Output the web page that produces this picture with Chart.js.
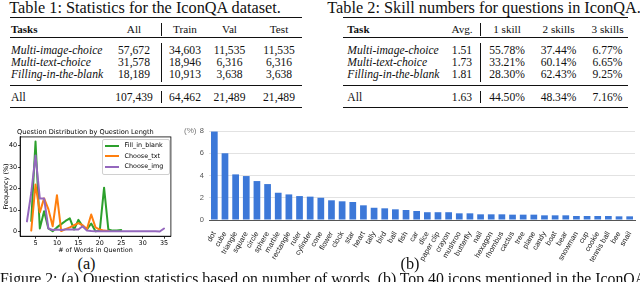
<!DOCTYPE html>
<html><head><meta charset="utf-8">
<script src="https://cdn.jsdelivr.net/npm/chart.js@4.4.1/dist/chart.umd.min.js"></script>
<style>
html,body{margin:0;padding:0;background:#fff;width:640px;height:282px;overflow:hidden;position:relative;}
.t{position:absolute;white-space:nowrap;line-height:1;color:#111;font-family:"Liberation Serif","Times New Roman",serif;}
.rule{position:absolute;background:#111;}
canvas{position:absolute;}
.lg{position:absolute;white-space:nowrap;font-family:"DejaVu Sans",sans-serif;font-size:6.4px;line-height:1;color:#000;}
</style></head><body>
<canvas id="lineChart" width="176" height="128" style="left:0;top:126px;width:176px;height:128px"></canvas>
<canvas id="barChart" width="460" height="142" style="left:180px;top:120px;width:460px;height:142px"></canvas>
<script>
// ---------- data ----------
const t1Title = 'Table 1: Statistics for the IconQA dataset.';
const t1Header = ['Tasks', 'All', 'Train', 'Val', 'Test'];
const t1Tasks = ['Multi-image-choice', 'Multi-text-choice', 'Filling-in-the-blank'];
const t1All = ['57,672', '31,578', '18,189'];
const t1Train = ['34,603', '18,946', '10,913'];
const t1Val = ['11,535', '6,316', '3,638'];
const t1Test = ['11,535', '6,316', '3,638'];
const t1Total = ['All', '107,439', '64,462', '21,489', '21,489'];

const t2Title = 'Table 2: Skill numbers for questions in IconQA.';
const t2Header = ['Task', 'Avg.', '1 skill', '2 skills', '3 skills'];
const t2Tasks = ['Multi-image-choice', 'Multi-text-choice', 'Filling-in-the-blank'];
const t2Avg = ['1.51', '1.73', '1.81'];
const t2One = ['55.78%', '33.21%', '28.30%'];
const t2Two = ['37.44%', '60.14%', '62.43%'];
const t2Three = ['6.77%', '6.65%', '9.25%'];
const t2Total = ['All', '1.63', '44.50%', '48.34%', '7.16%'];

const lineTitle = 'Question Distribution by Question Length';
const seriesNames = ['Fill_in_blank', 'Choose_txt', 'Choose_img'];
const wordCounts = [3,4,5,6,7,8,9,10,11,12,13,14,15,16,17,18,19,20,21,22,23,24,25,26,27,28,29,30,31,32,33,34,35];
const fillBlank = [null,5,42,1.5,9.5,1.5,0.2,2,3.5,5,6.2,1,5.5,2.5,1,3.8,0.2,0.5,20.5,1,0.5,0.5,0.8,null,null,null,null,null,null,null,null,null,null];
const chooseTxt = [null,0.5,22,9,15.5,10.5,2.5,17,0.3,1.2,2,3,4,3,1.2,8,2,1,0.5,0.3,null,null,null,null,null,null,null,null,null,null,null,null,null];
const chooseImg = [4.8,18,35.5,15.5,15.5,1.5,0.8,1,0.8,1,1,1,1,2.5,0.5,0.3,0.2,0.2,0.2,0.2,0.2,0.2,0.2,0.2,0.2,0.2,0.2,0.2,0.2,0.2,0.2,0.1,1.5];
const lineXTicks = [5,10,15,20,25,30,35];
const lineYTicks = [0,10,20,30,40];

const iconNames = ['dot','cube','triangle','square','circle','sphere','marble','rectangle','ruler','cylinder','cone','flower','clock','star','heart','tally','bird','ball','fish','car','dice','paper clip','crayon','mushroo','butterfly','nail','hexagon','rhombus','cactus','tree','plane','candy','boat','bear','snowman','cup','cookie','tennis ball','bee','snail'];
const iconPct = [7.95,6.0,4.1,3.95,3.5,3.23,2.45,2.3,2.15,2.1,2.0,1.77,1.68,1.62,1.32,1.1,1.05,0.96,0.9,0.81,0.7,0.7,0.7,0.6,0.6,0.51,0.51,0.51,0.48,0.48,0.48,0.42,0.42,0.42,0.36,0.36,0.36,0.36,0.33,0.33];

const captionA = '(a)', captionB = '(b)';
const figCaption = 'Figure 2: (a) Question statistics based on number of words. (b) Top 40 icons mentioned in the IconQA dataset.';

// ---------- text helpers ----------
function T(str, x, base, size, o = {}) {
  const d = document.createElement('div');
  d.className = 't'; d.textContent = str;
  d.style.fontSize = size + 'px';
  d.style.left = x + 'px';
  d.style.top = (base - 0.8375 * size) + 'px';
  if (o.b) d.style.fontWeight = 'bold';
  if (o.i) d.style.fontStyle = 'italic';
  if (o.a === 'c') d.style.transform = 'translateX(-50%)';
  else if (o.a === 'r') d.style.transform = 'translateX(-100%)';
  document.body.appendChild(d);
}
function R(x, y, w, h) {
  const d = document.createElement('div'); d.className = 'rule';
  d.style.left = x + 'px'; d.style.top = y + 'px'; d.style.width = w + 'px'; d.style.height = h + 'px';
  document.body.appendChild(d);
}

// ---------- tables ----------
const TS = 16.3, BS = 11.6, CS = 15.8;
const rowBase = [54.8, 67.0, 79.2];
const headBase = 33.2, totBase = 101.3;
// Table 1
T(t1Title, 9.3, 14, TS);
R(10, 16.6, 292, 1.4); R(10, 37.3, 292, 0.8); R(10, 85.3, 292, 0.8); R(10, 106.6, 292, 1.4);
const t1Cols = [134, 185, 229.5, 279];
T(t1Header[0], 11, headBase, BS - 0.6, {b: 1});
t1Header.slice(1).forEach((h, j) => T(h, t1Cols[j], headBase, BS - 0.4, {a: 'c'}));
t1Tasks.forEach((s, i) => {
  T(s, 11, rowBase[i], BS, {i: 1});
  [t1All, t1Train, t1Val, t1Test].forEach((col, j) => T(col[i], t1Cols[j], rowBase[i], BS, {a: 'c'}));
});
T(t1Total[0], 11, totBase, BS);
t1Total.slice(1).forEach((v, j) => T(v, t1Cols[j], totBase, BS, {a: 'c'}));
R(161, 22.7, 0.8, 13.5); R(161, 43.3, 0.8, 38.5); R(161, 90.7, 0.8, 12.8);
// Table 2
T(t2Title, 327.3, 14, TS);
R(343.3, 16.6, 285, 1.4); R(343.3, 37.3, 285, 0.8); R(343.3, 85.3, 285, 0.8); R(343.3, 106.6, 285, 1.4);
const t2Cols = [462, 507, 558.5, 607.5];
T(t2Header[0], 347.3, headBase, BS - 0.6, {b: 1});
t2Header.slice(1).forEach((h, j) => T(h, t2Cols[j], headBase, BS - 0.4, {a: 'c'}));
t2Tasks.forEach((s, i) => {
  T(s, 347.3, rowBase[i], BS, {i: 1});
  [t2Avg, t2One, t2Two, t2Three].forEach((col, j) => T(col[i], t2Cols[j], rowBase[i], BS, {a: 'c'}));
});
T(t2Total[0], 347.3, totBase, BS);
t2Total.slice(1).forEach((v, j) => T(v, t2Cols[j], totBase, BS, {a: 'c'}));
R(479.6, 22.7, 0.8, 13.5); R(479.6, 43.3, 0.8, 38.5); R(479.6, 90.7, 0.8, 12.8);

// captions
T(captionA, 86.5, 269.5, TS, {a: 'c'});
T(captionB, 410, 269.8, TS, {a: 'c'});
T(figCaption, 0, 284.5, CS);

// ---------- line chart legend (HTML) ----------
const lgColors = ['#2ca02c', '#ff7f0e', '#9467bd'];
(function () {
  const box = document.createElement('div');
  box.style.cssText = 'position:absolute;left:101.5px;top:138.5px;width:66px;height:34px;border:0.8px solid #d0d0d0;border-radius:2px;background:rgba(255,255,255,0.85);';
  document.body.appendChild(box);
  const ys = [145.5, 156.3, 166.8];
  seriesNames.forEach((n, i) => {
    const l = document.createElement('div');
    l.style.cssText = `position:absolute;left:105px;top:${ys[i] - 1}px;width:14px;height:2px;background:${lgColors[i]};`;
    document.body.appendChild(l);
    const t = document.createElement('div'); t.className = 'lg'; t.textContent = n;
    t.style.left = '124.5px'; t.style.top = (ys[i] - 3.6) + 'px';
    document.body.appendChild(t);
  });
})();

// ---------- line chart ----------
const frame = {
  id: 'frame',
  afterDatasetsDraw(c) {
    const a = c.chartArea, ctx = c.ctx;
    ctx.save(); ctx.strokeStyle = '#000'; ctx.lineWidth = 0.8;
    ctx.strokeRect(a.left, a.top, a.right - a.left, a.bottom - a.top);
    ctx.restore();
  }
};
const mk = arr => wordCounts.map((x, i) => ({x: x, y: arr[i]}));
const dj = {family: 'DejaVu Sans', size: 6.4};
new Chart(document.getElementById('lineChart'), {
  type: 'line',
  data: {datasets: [
    {label: seriesNames[0], data: mk(fillBlank), borderColor: lgColors[0], order: 3},
    {label: seriesNames[1], data: mk(chooseTxt), borderColor: lgColors[1], order: 2},
    {label: seriesNames[2], data: mk(chooseImg), borderColor: lgColors[2], order: 1}
  ]},
  options: {
    responsive: false, animation: false, devicePixelRatio: 1,
    layout: {padding: {left: 0, right: 5.1, top: 0, bottom: 0}},
    elements: {point: {radius: 0}, line: {borderWidth: 2, tension: 0, borderJoinStyle: 'round', borderCapStyle: 'round'}},
    plugins: {
      legend: {display: false}, tooltip: {enabled: false},
      title: {display: true, text: lineTitle, color: '#000', font: {family: 'DejaVu Sans', size: 6.6, weight: 'normal'}, padding: {top: 2.2, bottom: 0.8}}
    },
    scales: {
      x: {
        type: 'linear', min: 1.4, max: 36.6,
        afterBuildTicks: s => { s.ticks = lineXTicks.map(v => ({value: v})); },
        afterFit: s => { s.height = 17.8; s.paddingLeft = 0; s.paddingRight = 0; },
        ticks: {font: dj, color: '#000', padding: 1, maxRotation: 0, autoSkip: false},
        grid: {drawOnChartArea: false, tickLength: 2.5, tickColor: '#000', tickWidth: 0.8},
        border: {color: '#000', width: 0.8},
        title: {display: true, text: '# of Words in Quention', font: dj, color: '#000', padding: {top: 0, bottom: 0}}
      },
      y: {
        min: -2.1, max: 44.1,
        afterBuildTicks: s => { s.ticks = lineYTicks.map(v => ({value: v})); },
        afterFit: s => { s.width = 20.1; s.paddingTop = 0; s.paddingBottom = 0; },
        ticks: {font: dj, color: '#000', padding: 1},
        grid: {drawOnChartArea: false, tickLength: 2, tickColor: '#000', tickWidth: 0.8},
        border: {color: '#000', width: 0.8},
        title: {display: true, text: 'Frequency (%)', font: dj, color: '#000', padding: {top: 2.8, bottom: 0}}
      }
    }
  },
  plugins: [frame]
});

// ---------- bar chart ----------
const pctLabel = document.createElement('div');
pctLabel.className = 'lg';
pctLabel.style.cssText = 'position:absolute;left:184px;top:127px;font-family:"Liberation Sans",Arial,sans-serif;font-size:8px;line-height:1;color:#777;';
pctLabel.textContent = '(%)';
document.body.appendChild(pctLabel);

new Chart(document.getElementById('barChart'), {
  type: 'bar',
  data: {labels: iconNames, datasets: [{data: iconPct, backgroundColor: '#3c78d8', barPercentage: 0.63, categoryPercentage: 1}]},
  options: {
    responsive: false, animation: false, devicePixelRatio: 1,
    layout: {padding: {left: 0, right: 5, top: 11, bottom: 0}},
    plugins: {legend: {display: false}, tooltip: {enabled: false}},
    scales: {
      x: {
        afterFit: s => { s.height = 42; s.paddingLeft = 0; s.paddingRight = 0; },
        grid: {display: false},
        border: {display: true, color: '#555', width: 1},
        ticks: {autoSkip: false, minRotation: 60, maxRotation: 60, padding: 2, color: '#1a1a1a', font: {family: 'Liberation Sans', size: 7.5}}
      },
      y: {
        min: 0, max: 8,
        afterFit: s => { s.width = 29; s.paddingTop = 0; s.paddingBottom = 0; },
        ticks: {stepSize: 1, padding: 5, color: '#555', font: {family: 'Liberation Sans', size: 7.5}},
        grid: {color: '#e2e2e2', drawTicks: false, lineWidth: 1},
        border: {display: false}
      }
    }
  }
});
</script>
</body></html>
